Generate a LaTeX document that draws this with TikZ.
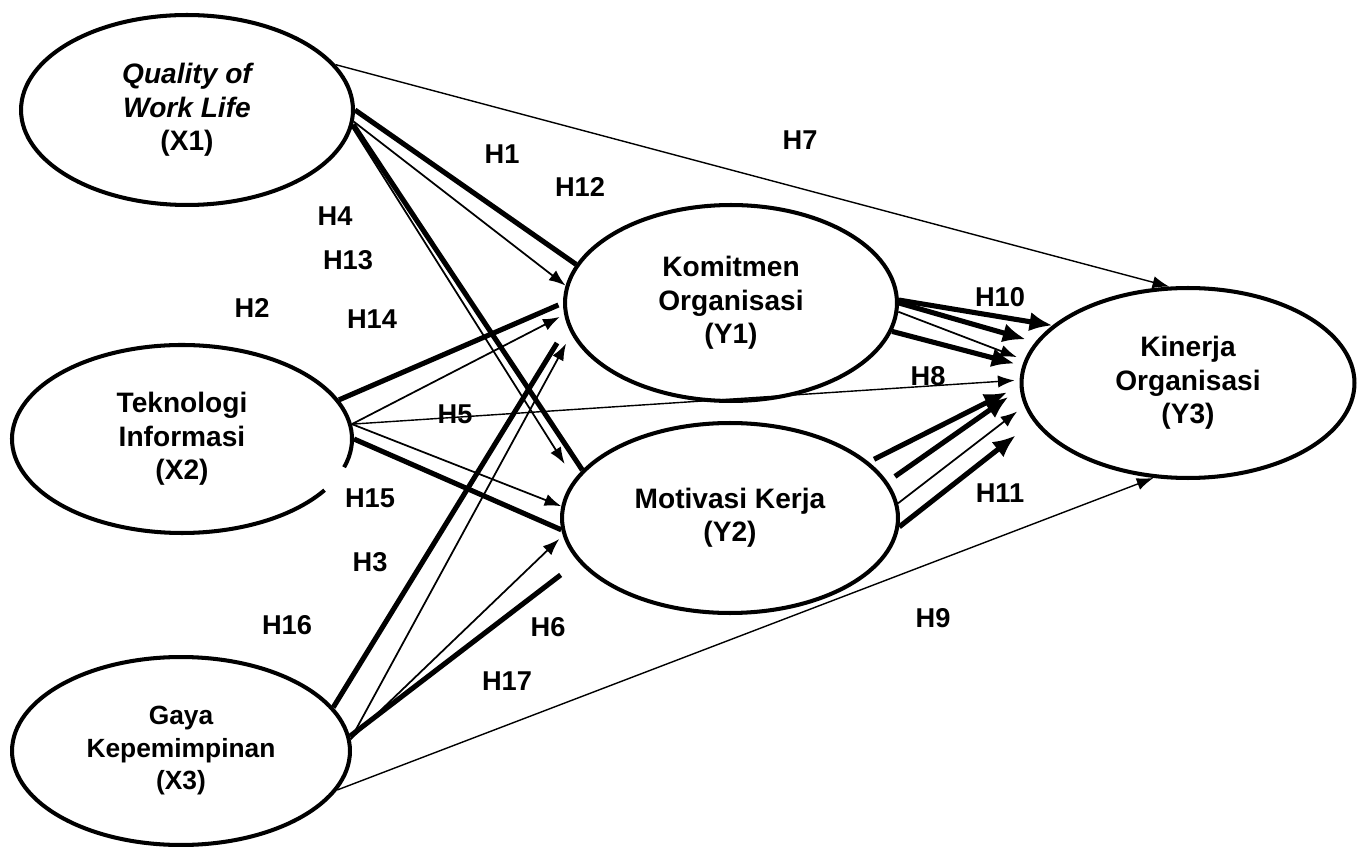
\documentclass[tikz,border=0pt]{standalone}
\usepackage{fontspec}
\setmainfont{Liberation Sans}
\usetikzlibrary{shapes.geometric,arrows.meta}
\begin{document}
\begin{tikzpicture}[x=0.02cm,y=-0.02cm,
  latent/.style={ellipse, draw, line width=2.3pt, inner sep=0pt, align=center,
    font=\fontsize{16}{19}\selectfont\bfseries},
  hyp/.style={font=\fontsize{15.5}{18}\selectfont\bfseries, inner sep=0pt},
  path1/.style={line width=1pt, -{Latex[length=9.5pt,width=7pt]}},
  path0/.style={line width=0.8pt, -{Latex[length=9.5pt,width=7pt]}},
  heavy/.style={line width=2.9pt},
  heavyarrow/.style={line width=2.9pt, -{Latex[length=13pt,width=11pt]}},
]
\useasboundingbox (0,0) rectangle (1365,847);

% latent variables
\node[latent, minimum width=6.64cm, minimum height=3.8cm] (X1) at (187,110)
  {{\itshape Quality of}\\{\itshape Work Life}\\(X1)};
\node[latent, draw=none, minimum width=6.8cm, minimum height=3.76cm] (X2) at (182,439)
  {Teknologi\\Informasi\\(X2)};
\draw[line width=2.3pt] (X2.center) ++(-17.5:3.4cm and 1.88cm)
  arc[start angle=-17.5, end angle=327, x radius=3.4cm, y radius=1.88cm];
\node[latent, minimum width=6.76cm, minimum height=3.76cm,
  font=\fontsize{15}{18.5}\selectfont\bfseries] (X3) at (181,751)
  {Gaya\\Kepemimpinan\\(X3)};
\node[latent, minimum width=6.64cm, minimum height=3.92cm] (Y1) at (731,303)
  {Komitmen\\Organisasi\\(Y1)};
\node[latent, minimum width=6.72cm, minimum height=3.8cm] (Y2) at (730,518)
  {Motivasi Kerja\\(Y2)};
\node[latent, minimum width=6.66cm, minimum height=3.8cm] (Y3) at (1188,383)
  {Kinerja\\Organisasi\\(Y3)};

% paths from Quality of Work Life
\draw[path0] (X1.17.7) -- (Y3.101.8);
\draw[heavy] (X1.0.7) -- (Y1.166.1);
\draw[path1] (X1.-4.1) -- (Y1.174.6);
\draw[heavy] (X1.-5.6) -- (Y2.162.9);
\draw[path1, shorten >=0.36cm] (X1.-6.2) -- (Y2.166);

% paths from Teknologi Informasi
\draw[heavy, shorten >=0.1cm] (X2.14.7) -- (Y1.180);
\draw[path1, shorten >=0.1cm] (X2.5.4) -- (Y1.-176.7);
\draw[path0, shorten >=0.1cm] (X2.5.4) -- (Y3.179.7);
\draw[path1] (X2.5.4) -- (Y2.176.3);
\draw[heavy] (X2.0.6) -- (Y2.184);

% paths from Gaya Kepemimpinan
\draw[heavy, shorten >=0.4cm] (X3.16.1) -- (Y1.188.5);
\draw[path1, shorten >=0.22cm] (X3.4.3) -- (Y1.191.4);
\draw[path1, shorten >=0.1cm] (X3.4.3) -- (Y2.186.7);
\draw[heavy, shorten >=0.44cm] (X3.5) -- (Y2.196.4);
\draw[path0] (X3.-14.5) -- (Y3.250.5);

% paths from Komitmen Organisasi
\draw[heavyarrow] (Y1.1.1) -- (Y3.157.2);
\draw[heavyarrow, shorten >=0.2cm] (Y1.0.3) -- (Y3.165);
\draw[path1, shorten >=0.16cm] (Y1.-3.4) -- (Y3.172.3);
\draw[heavyarrow, shorten >=0.16cm] (Y1.-10.2) -- (Y3.174);

% paths from Motivasi Kerja
\draw[heavyarrow, shorten <=0.12cm, shorten >=0.28cm] (Y2.22.1) -- (Y3.181.3);
\draw[heavyarrow, shorten <=0.18cm, shorten >=0.28cm] (Y2.13.8) -- (Y3.182.8);
\draw[path1, shorten >=0.18cm] (Y2.5.1) -- (Y3.188);
\draw[heavyarrow, shorten >=0.45cm] (Y2.-3.1) -- (Y3.194.7);

% hypothesis labels
\node[hyp] (h1)  at (502,154) {H1};
\node[hyp] (h12) at (580,187) {H12};
\node[hyp] (h7)  at (800,140) {H7};
\node[hyp] (h4)  at (335,216) {H4};
\node[hyp] (h13) at (348,260) {H13};
\node[hyp] (h2)  at (252,308) {H2};
\node[hyp] (h14) at (372,319) {H14};
\node[hyp] (h5)  at (455,414) {H5};
\node[hyp] (h15) at (370,498) {H15};
\node[hyp] (h3)  at (370,562) {H3};
\node[hyp] (h16) at (287,625) {H16};
\node[hyp] (h6)  at (548,627) {H6};
\node[hyp] (h17) at (507,681) {H17};
\node[hyp] (h8)  at (928,376) {H8};
\node[hyp] (h10) at (1000,297) {H10};
\node[hyp] (h11) at (1000,493) {H11};
\node[hyp] (h9)  at (933,618) {H9};
\end{tikzpicture}
\end{document}
